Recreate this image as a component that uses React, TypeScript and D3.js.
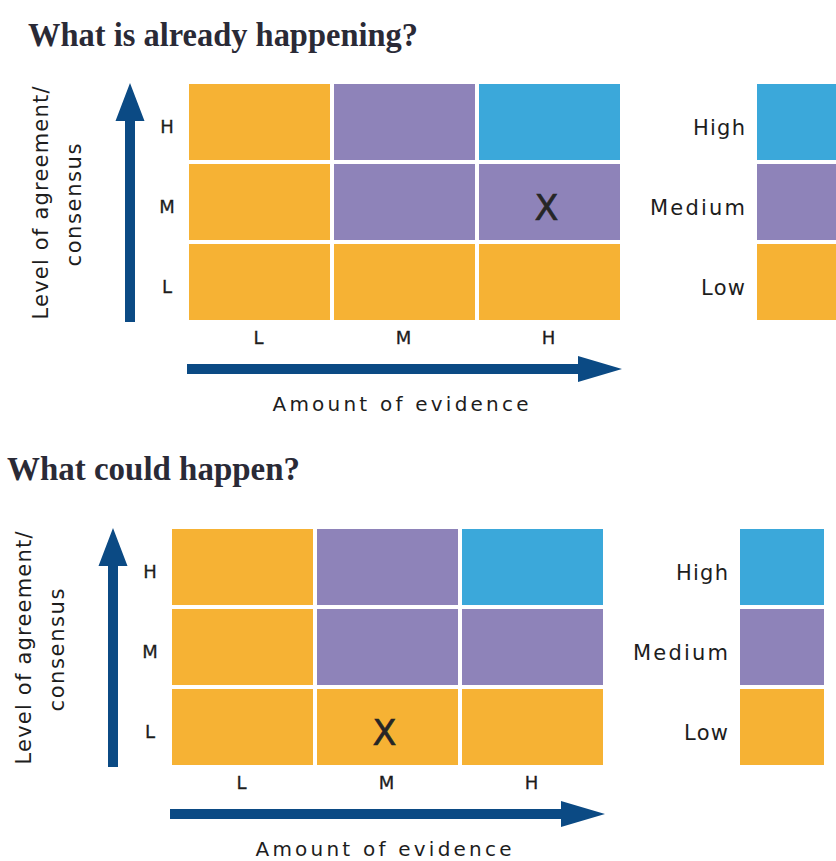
import React from "react";
import * as d3 from "d3";

// ---------- data ----------
const EVIDENCE_LEVELS = ["L", "M", "H"]; // x axis, left → right
const AGREEMENT_LEVELS = ["H", "M", "L"]; // y axis, top → bottom
const CONFIDENCE_CLASSES = ["High", "Medium", "Low"]; // legend, top → bottom
const CONFIDENCE_COLORS = ["#3BA8DA", "#8E83B9", "#F6B234"];
// confidence of each cell: one array per agreement row, values per evidence column (L, M, H)
const ROW_AGREEMENT_H = ["Low", "Medium", "High"];
const ROW_AGREEMENT_M = ["Low", "Medium", "Medium"];
const ROW_AGREEMENT_L = ["Low", "Low", "Low"];
const PANEL_TITLES = ["What is already happening?", "What could happen?"];
const MARK_EVIDENCE = ["H", "M"];
const MARK_AGREEMENT = ["M", "L"];
const X_AXIS_TITLE = "Amount of evidence";
const Y_AXIS_TITLE_LINES = ["Level of agreement/", "consensus"];

const ROWS: Record<string, string[]> = {
  H: ROW_AGREEMENT_H,
  M: ROW_AGREEMENT_M,
  L: ROW_AGREEMENT_L,
};

const color = d3.scaleOrdinal<string, string>().domain(CONFIDENCE_CLASSES).range(CONFIDENCE_COLORS);

const SANS = "'DejaVu Sans', sans-serif";
const ARROW = "#0B4A84";
const TEXT = "#1d1d1d";

function Panel({ dx, dy, markE, markA }: { dx: number; dy: number; markE: string; markA: string }) {
  const x = d3.scaleBand<string>().domain(EVIDENCE_LEVELS).range([189, 620]).paddingInner(4 / 145).paddingOuter(0);
  const y = d3.scaleBand<string>().domain(AGREEMENT_LEVELS).range([84, 320]).paddingInner(4 / 80).paddingOuter(0);
  const legendX = d3.scaleBand<string>().domain(["legend"]).range([757, 841]);
  const legendY = d3.scaleBand<string>().domain(CONFIDENCE_CLASSES).range([84, 320]).paddingInner(4 / 80).paddingOuter(0);

  const [gx0, gx1] = x.range();
  const [gy0, gy1] = y.range();

  // vertical arrow
  const vx = gx0 - 59;
  const vTip = gy0 - 1;
  const vBottom = gy1 + 2;
  const vHead = 38, vHalf = 14.5, shaft = 5;
  const vPath = d3.path();
  vPath.moveTo(vx - shaft, vBottom);
  vPath.lineTo(vx - shaft, vTip + vHead);
  vPath.lineTo(vx - vHalf, vTip + vHead);
  vPath.lineTo(vx, vTip);
  vPath.lineTo(vx + vHalf, vTip + vHead);
  vPath.lineTo(vx + shaft, vTip + vHead);
  vPath.lineTo(vx + shaft, vBottom);
  vPath.closePath();

  // horizontal arrow
  const hy = gy1 + 49;
  const hStart = gx0 - 2;
  const hTip = gx1 + 2;
  const hHead = 44, hHalf = 13;
  const hPath = d3.path();
  hPath.moveTo(hStart, hy - shaft);
  hPath.lineTo(hTip - hHead, hy - shaft);
  hPath.lineTo(hTip - hHead, hy - hHalf);
  hPath.lineTo(hTip, hy);
  hPath.lineTo(hTip - hHead, hy + hHalf);
  hPath.lineTo(hTip - hHead, hy + shaft);
  hPath.lineTo(hStart, hy + shaft);
  hPath.closePath();

  const legendWidths: Record<string, number> = { High: 52, Medium: 95, Low: 44 };

  return (
    <g transform={`translate(${dx},${dy})`}>
      {AGREEMENT_LEVELS.map((a) =>
        EVIDENCE_LEVELS.map((e, i) => (
          <rect
            key={a + e}
            x={x(e)}
            y={y(a)}
            width={x.bandwidth()}
            height={y.bandwidth()}
            fill={color(ROWS[a][i])}
          />
        ))
      )}
      <text
        x={(x(markE) as number) + x.bandwidth() / 2 - 3}
        y={(y(markA) as number) + y.bandwidth() / 2 + 5}
        dy="0.36em"
        textAnchor="middle"
        fontFamily={SANS}
        fontSize={35}
        fill="#262626"
        stroke="#262626"
        strokeWidth={0.6}
      >
        X
      </text>

      {/* row tick labels */}
      {AGREEMENT_LEVELS.map((a) => (
        <text
          key={"r" + a}
          x={gx0 - 22}
          y={(y(a) as number) + y.bandwidth() / 2 + 5}
          dy="0.36em"
          textAnchor="middle"
          fontFamily={SANS}
          fontSize={18}
          fill={TEXT}
          stroke={TEXT}
          strokeWidth={0.3}
        >
          {a}
        </text>
      ))}
      {/* column tick labels */}
      {EVIDENCE_LEVELS.map((e) => (
        <text
          key={"c" + e}
          x={(x(e) as number) + x.bandwidth() / 2 - 1}
          y={gy1 + 18}
          dy="0.36em"
          textAnchor="middle"
          fontFamily={SANS}
          fontSize={18}
          fill={TEXT}
          stroke={TEXT}
          strokeWidth={0.3}
        >
          {e}
        </text>
      ))}

      <path d={vPath.toString()} fill={ARROW} />
      <path d={hPath.toString()} fill={ARROW} />

      <text
        x={(gx0 + gx1) / 2 - 4}
        y={gy1 + 91}
        textAnchor="middle"
        fontFamily={SANS}
        fontSize={20}
        fill={TEXT}
        textLength={256}
        lengthAdjust="spacing"
      >
        {X_AXIS_TITLE}
      </text>

      <text
        transform={`translate(48,203) rotate(-90)`}
        textAnchor="middle"
        fontFamily={SANS}
        fontSize={21}
        fill={TEXT}
        textLength={233}
        lengthAdjust="spacing"
      >
        {Y_AXIS_TITLE_LINES[0]}
      </text>
      <text
        transform={`translate(81,205) rotate(-90)`}
        textAnchor="middle"
        fontFamily={SANS}
        fontSize={21}
        fill={TEXT}
        textLength={123}
        lengthAdjust="spacing"
      >
        {Y_AXIS_TITLE_LINES[1]}
      </text>

      {/* legend */}
      {CONFIDENCE_CLASSES.map((c) => (
        <g key={"l" + c}>
          <rect
            x={legendX("legend")}
            y={legendY(c)}
            width={legendX.bandwidth()}
            height={legendY.bandwidth()}
            fill={color(c)}
          />
          <text
            x={(legendX("legend") as number) - 12}
            y={(legendY(c) as number) + legendY.bandwidth() / 2 + 5}
            dy="0.36em"
            textAnchor="end"
            fontFamily={SANS}
            fontSize={21}
            fill={TEXT}
            textLength={legendWidths[c]}
            lengthAdjust="spacing"
          >
            {c}
          </text>
        </g>
      ))}
    </g>
  );
}

export default function App() {
  const titlePos = [
    { x: 28, y: 46, w: 390 },
    { x: 7, y: 480, w: 293 },
  ];
  return (
    <svg
      width={836}
      height={861}
      style={{ position: "absolute", left: 0, top: 0, background: "#ffffff" }}
    >
      <rect x={0} y={0} width={836} height={861} fill="#ffffff" />
      {PANEL_TITLES.map((t, i) => (
        <text
          key={t}
          x={titlePos[i].x}
          y={titlePos[i].y}
          fontFamily="'Liberation Serif', 'DejaVu Serif', serif"
          fontWeight="bold"
          fontSize={33}
          fill="#2a2a36"
          textLength={titlePos[i].w}
          lengthAdjust="spacingAndGlyphs"
        >
          {t}
        </text>
      ))}
      <Panel dx={0} dy={0} markE={MARK_EVIDENCE[0]} markA={MARK_AGREEMENT[0]} />
      <Panel dx={-17} dy={445} markE={MARK_EVIDENCE[1]} markA={MARK_AGREEMENT[1]} />
    </svg>
  );
}
